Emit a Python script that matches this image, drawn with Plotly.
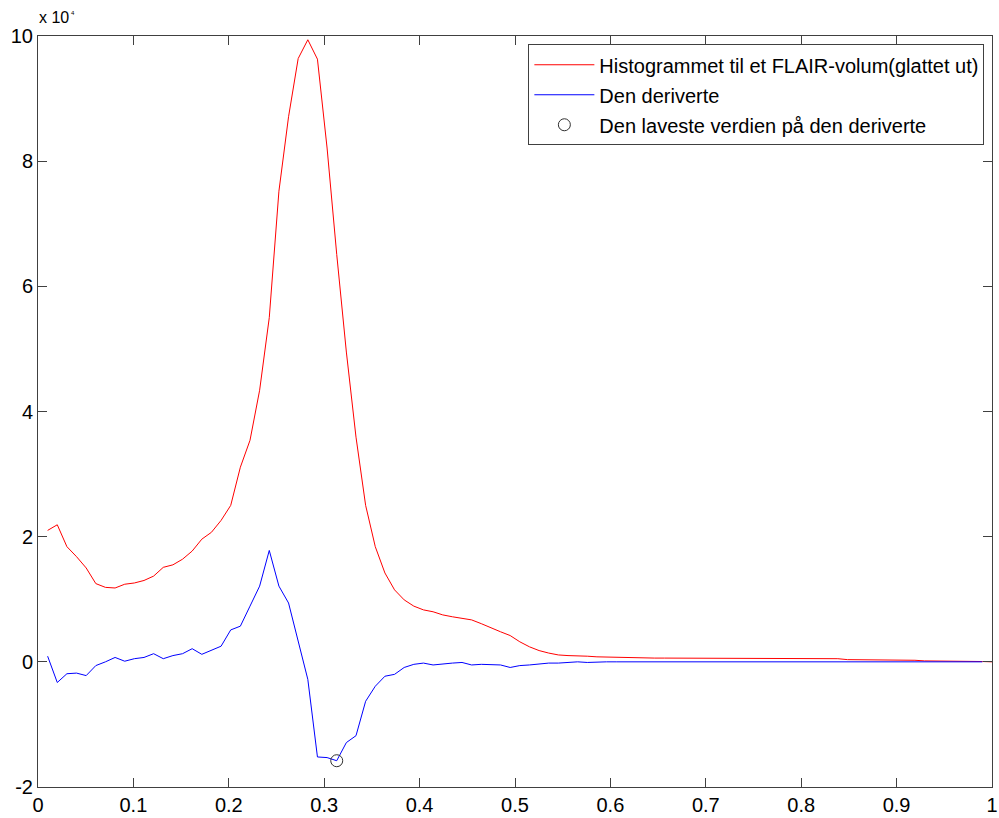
import numpy as np
import plotly.graph_objects as go

# x grid of the histogram bins (k/99, k = 1..99)
x_hist = (np.arange(1, 100) / 99.0).tolist()
x_deriv = x_hist[:98]

# Histogram (smoothed), in units of 10^4
hist_vals = [
    2.10, 2.19, 1.84, 1.68, 1.50, 1.25, 1.19, 1.18, 1.24, 1.26,
    1.30, 1.37, 1.51, 1.55, 1.64, 1.77, 1.96, 2.07, 2.26, 2.50,
    3.11, 3.54, 4.34, 5.50, 7.52, 8.71, 9.64, 9.94, 9.63, 8.21,
    6.51, 4.95, 3.59, 2.50, 1.84, 1.42, 1.15, 0.99, 0.89, 0.83,
    0.80, 0.75, 0.72, 0.69, 0.67, 0.61, 0.54, 0.48, 0.42, 0.32,
    0.24, 0.18, 0.14, 0.11, 0.10, 0.10, 0.09, 0.08, 0.075, 0.073,
    0.07, 0.065, 0.06, 0.06, 0.06, 0.06,
    0.055, 0.055, 0.055, 0.055, 0.055, 0.055, 0.055, 0.055, 0.055, 0.055, 0.055, 0.055, 0.055,
    0.05, 0.05, 0.05, 0.05,
    0.035, 0.035, 0.035, 0.035,
    0.025, 0.025, 0.025, 0.025,
    0.015, 0.015, 0.015, 0.015,
    0.005, 0.005, 0.005,
    0.0,
]

# Derivative, in units of 10^4
deriv_vals = [
    0.09, -0.33, -0.19, -0.18, -0.22, -0.06, 0.00, 0.07, 0.01, 0.05,
    0.07, 0.13, 0.05, 0.10, 0.13, 0.21, 0.12, 0.19, 0.25, 0.51,
    0.57, 0.89, 1.21, 1.78, 1.21, 0.94, 0.33, -0.28, -1.52, -1.53,
    -1.58, -1.29, -1.18, -0.63, -0.39, -0.23, -0.20, -0.09, -0.04, -0.02,
    -0.05, -0.03, -0.02, -0.01, -0.05, -0.04, -0.05, -0.05, -0.09, -0.06,
    -0.05, -0.03, -0.02, -0.02, -0.01, 0.0, -0.01,
    0, 0, 0, 0, 0, 0, 0, 0, 0, 0,
    0, 0, 0, 0, 0, 0, 0, 0, 0, 0,
    0, 0, 0, 0, 0, 0, 0, 0, 0, 0,
    0, 0, 0, 0, 0, 0, 0, 0, 0, 0,
    0,
]

SCALE = 1e4
x_ticks = [0, 0.1, 0.2, 0.3, 0.4, 0.5, 0.6, 0.7, 0.8, 0.9, 1]
x_ticktext = ["0", "0.1", "0.2", "0.3", "0.4", "0.5", "0.6", "0.7", "0.8", "0.9", "1"]
y_ticks = [-2, 0, 2, 4, 6, 8, 10]
y_ticktext = ["-2", "0", "2", "4", "6", "8", "10"]

series_names = [
    "Histogrammet til et FLAIR-volum(glattet ut)",
    "Den deriverte",
    "Den laveste verdien på den deriverte",
]

hist_y = np.array(hist_vals) * SCALE
deriv_y = np.array(deriv_vals) * SCALE
imin = int(np.argmin(deriv_y))

FONT = "Liberation Sans, Arial, Helvetica, sans-serif"
AX = "#404040"

fig = go.Figure()
fig.add_trace(go.Scatter(x=x_hist, y=hist_y, mode="lines",
                         line=dict(color="#ff0000", width=1),
                         name=series_names[0], legendgroup="a"))
fig.add_trace(go.Scatter(x=x_deriv, y=deriv_y, mode="lines",
                         line=dict(color="#0000ff", width=1),
                         name=series_names[1], legendgroup="b"))
fig.add_trace(go.Scatter(x=[x_deriv[imin]], y=[deriv_y[imin]], mode="markers",
                         marker=dict(symbol="circle-open", size=12, color="#303030",
                                     line=dict(width=1, color="#303030")),
                         name=series_names[2], legendgroup="c"))

axis_common = dict(
    ticks="inside", ticklen=9, tickcolor=AX, tickwidth=1,
    showline=True, linecolor=AX, linewidth=1, mirror="ticks",
    showgrid=False, zeroline=False, automargin=False,
    tickfont=dict(family=FONT, size=20, color="black"),
)

fig.update_layout(
    width=999, height=818,
    margin=dict(l=38, r=7, t=36, b=31),
    plot_bgcolor="white", paper_bgcolor="white",
    font=dict(family=FONT, size=20, color="black"),
    xaxis=dict(range=[0, 1], tickvals=x_ticks, ticktext=x_ticktext, **axis_common),
    yaxis=dict(range=[-2 * SCALE, 10 * SCALE], tickvals=[v * SCALE for v in y_ticks],
               ticktext=y_ticktext, **axis_common),
    legend=dict(x=0.992, xanchor="right", y=0.989, yanchor="top",
                bgcolor="white", bordercolor=AX, borderwidth=1,
                font=dict(family=FONT, size=20, color="black"),
                traceorder="grouped", tracegroupgap=1, itemwidth=60),
    showlegend=True,
)

fig.add_annotation(text="x 10", xref="paper", yref="paper", x=-0.001, y=1.024,
                   xanchor="left", yanchor="middle", showarrow=False,
                   font=dict(family=FONT, size=16, color="black"))
fig.add_annotation(text="4", xref="paper", yref="paper", x=0.0372, y=1.031,
                   xanchor="center", yanchor="middle", showarrow=False,
                   font=dict(family=FONT, size=6, color="black"))

fig.write_html("out.html")
